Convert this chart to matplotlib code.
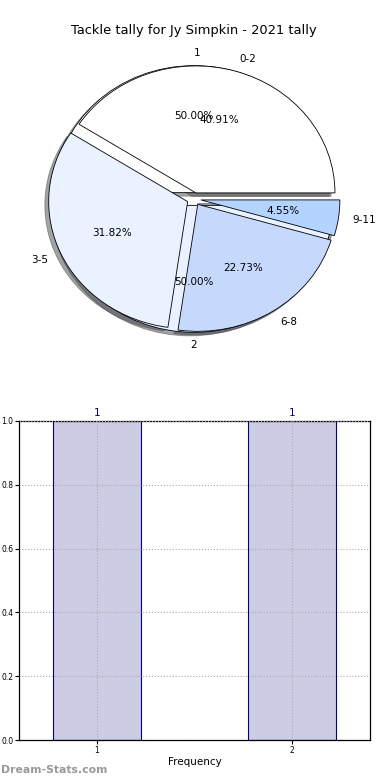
import matplotlib
matplotlib.use("Agg")
import matplotlib.pyplot as plt

# pie data (tackle ranges)
ranges = ["0-2", "3-5", "6-8", "9-11"]
range_counts = [9, 7, 5, 1]
# second pie (frequency groups)
freq_labels = ["1", "2"]
freq_counts = [1, 1]
# bar data
bar_x = [1, 2]
bar_heights = [1, 1]

colors = ["#ffffff", "#eaf1ff", "#c6d9fd", "#b3d4fe"]

fig = plt.figure(figsize=(3.9, 7.8), dpi=100)

# =========================
# pie
# =========================
ax1 = fig.add_axes([20.25 / 390, 422.25 / 780, 347.5 / 390, 317.5 / 780])
_, ftexts, _ = ax1.pie(freq_counts, labels=freq_labels, colors=colors[:2],
                       explode=[0.05, 0.05], autopct="%1.2f%%", shadow=True,
                       startangle=0, pctdistance=0.6, labeldistance=1.1,
                       wedgeprops=dict(edgecolor="black", linewidth=0.6),
                       textprops=dict(fontsize=7.5))
ftexts[0].set_ha("left")
ftexts[1].set_ha("center")
ax1.pie(range_counts, labels=ranges, colors=colors, explode=[0.05] * 4,
        autopct="%1.2f%%", shadow=True, startangle=0, pctdistance=0.6,
        labeldistance=1.1,
        wedgeprops=dict(edgecolor="black", linewidth=0.6),
        textprops=dict(fontsize=7.5))
ax1.set_aspect("auto")
ax1.set_xlim(-1.25, 1.25)
ax1.set_ylim(-1.25, 1.25)
ax1.set_title("Tackle tally for Jy Simpkin - 2021 tally", fontsize=9.4, pad=4.5)

# =========================
# bars
# =========================
ax2 = fig.add_axes([19 / 390, 40 / 780, 351 / 390, 319 / 780])
bars = ax2.bar(bar_x, bar_heights, width=0.45, color="#cccce5",
               edgecolor="#000080", linewidth=0.8, zorder=2)
for b, h in zip(bars, bar_heights):
    ax2.text(b.get_x() + b.get_width() / 2, h + 0.01, str(h), ha="center",
             va="bottom", fontsize=7.5, color="#000080")
ax2.set_xlim(0.6, 2.4)
ax2.set_ylim(0, 1.0)
ax2.set_xticks(bar_x)
ax2.set_yticks([0.0, 0.2, 0.4, 0.6, 0.8, 1.0])
ax2.set_yticklabels(["0.0", "0.2", "0.4", "0.6", "0.8", "1.0"])
ax2.tick_params(labelsize=5.5, length=3, direction="out", pad=1)
ax2.grid(True, linestyle=":", color="#aaaaaa", linewidth=0.8, zorder=3)
ax2.set_axisbelow(False)
for s in ax2.spines.values():
    s.set_linewidth(0.9)
ax2.set_xlabel("Frequency", fontsize=7.5, labelpad=2)

fig.text(0.002, 1 - 770 / 780, "Dream-Stats.com", fontsize=7.8, color="#999999",
         fontweight="bold", va="center", ha="left")

fig.savefig("out.png", dpi=100)
